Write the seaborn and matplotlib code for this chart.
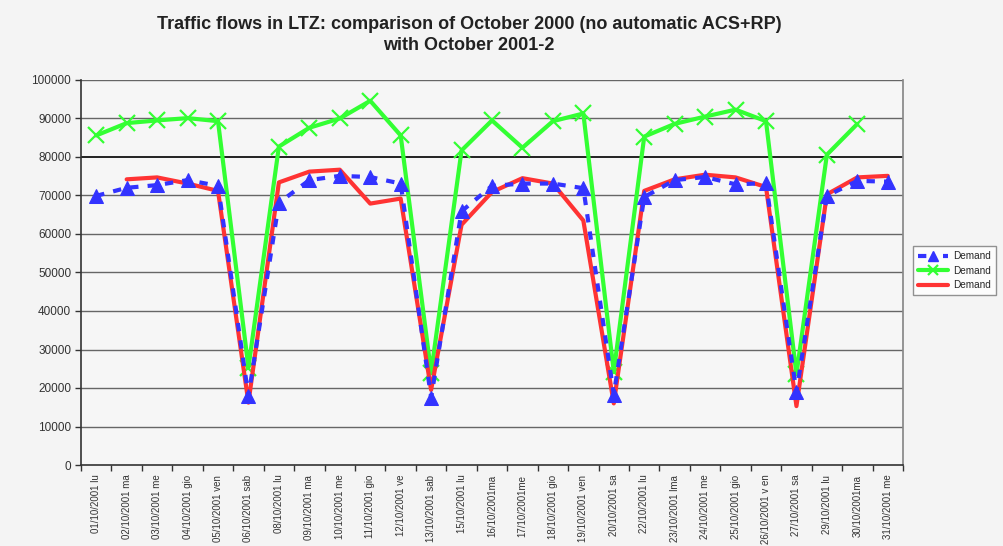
import numpy as np
import pandas as pd
import matplotlib.pyplot as plt
import seaborn as sns
from matplotlib.lines import Line2D

sns.set_theme(style="white")
plt.rcParams["font.family"] = ["Liberation Sans", "DejaVu Sans"]

# ------------------------------------------------------------
# Data
# ------------------------------------------------------------
days = [
    "01/10/2001 lu", "02/10/2001 ma", "03/10/2001 me", "04/10/2001 gio",
    "05/10/2001 ven", "06/10/2001 sab", "08/10/2001 lu", "09/10/2001 ma",
    "10/10/2001 me", "11/10/2001 gio", "12/10/2001 ve", "13/10/2001 sab",
    "15/10/2001 lu", "16/10/2001ma", "17/10/2001me", "18/10/2001 gio",
    "19/10/2001 ven", "20/10/2001 sa", "22/10/2001 lu", "23/10/2001 lma",
    "24/10/2001 me", "25/10/2001 gio", "26/10/2001 v en", "27/10/2001 sa",
    "29/10/2001 lu", "30/10/2001ma", "31/10/2001 me",
]

demand_2000 = [69900, 72000, 72700, 74000, 72500, 17900, 68100, 74000, 75100,
               74800, 73100, 17500, 65900, 72500, 73100, 73100, 71900, 18300,
               69600, 74000, 74800, 72900, 73200, 18900, 69900, 73800, 73600]

demand_2001 = [85600, 88800, 89500, 90100, 89300, 25300, 82700, 87600, 90000,
               94600, 85600, 24000, 81700, 89500, 82400, 89300, 91300, 24200,
               85300, 88600, 90500, 92300, 89300, 23600, 80600, 88600, np.nan]

demand_2002 = [np.nan, 74200, 74700, 73100, 71200, 16200, 73400, 76200, 76700,
               67900, 69200, 19500, 62400, 70900, 74500, 73100, 63500, 16000,
               71200, 74200, 75400, 74700, 72200, 15300, 70300, 74700, 75100]

pos = np.arange(len(days))
df = pd.DataFrame({"pos": pos, "d2000": demand_2000,
                   "d2001": demand_2001, "d2002": demand_2002})

blue = "#3333ff"
green = "#33ff33"
red = "#ff3333"
bg = "#f4f4f4"

fig = plt.figure(figsize=(10.04, 5.46), dpi=100, facecolor=bg)
ax = fig.add_axes([81 / 1004, 1 - 465 / 546, 822 / 1004, 385 / 546])
ax.set_facecolor("#f6f6f6")

# gridlines (the 80000 one is darker in the original)
for v in range(10000, 100001, 10000):
    if v == 80000:
        ax.axhline(v, color="#222222", lw=1.4, zorder=1)
    else:
        ax.axhline(v, color="#666666", lw=1.0, zorder=1)

sns.lineplot(data=df, x="pos", y="d2001", ax=ax, color=green, lw=3,
             marker="x", markersize=11, markeredgewidth=1.6,
             markeredgecolor=green, zorder=3)
sns.lineplot(data=df, x="pos", y="d2000", ax=ax, color=blue, lw=3,
             linestyle=(0, (2, 2.2)), marker="^", markersize=10,
             markeredgecolor=blue, zorder=4)
sns.lineplot(data=df, x="pos", y="d2002", ax=ax, color=red, lw=3, zorder=3)

ax.set_xlim(-0.5, len(days) - 0.5)
ax.set_ylim(0, 100000)
ax.set_yticks(range(0, 100001, 10000))
ax.set_yticklabels([str(v) for v in range(0, 100001, 10000)], fontsize=8.5,
                   color="#333333")
ax.set_xticks(pos)
ax.set_xticklabels(days, rotation=90, fontsize=7, color="#333333")
ax.set_xticks(np.arange(-0.5, len(days), 1), minor=True)
ax.tick_params(axis="x", which="major", length=0, pad=7)
ax.tick_params(axis="x", which="minor", length=4, width=1, color="#333333",
               direction="out", bottom=True)
ax.tick_params(axis="y", length=4, width=1, color="#333333", direction="out",
               left=True, pad=3)
ax.set_xlabel("")
ax.set_ylabel("")

for side in ["left", "bottom"]:
    ax.spines[side].set_color("#333333")
    ax.spines[side].set_linewidth(1.2)
ax.spines["right"].set_color("#888888")
ax.spines["top"].set_visible(False)

fig.text(469 / 1004, 1 - 35 / 546,
         "Traffic flows in LTZ: comparison of October 2000 (no automatic ACS+RP)\nwith October 2001-2",
         ha="center", va="center", fontsize=13, fontweight="bold",
         color="#222222", linespacing=1.35)

handles = [
    Line2D([], [], color=blue, lw=3, linestyle=(0, (2, 4)), marker="^",
           markersize=7, markevery=[1], markeredgecolor=blue),
    Line2D([], [], color=green, lw=3, marker="x", markersize=7,
           markeredgewidth=1.6, markevery=[1]),
    Line2D([], [], color=red, lw=3),
]
leg = fig.legend(handles, ["Demand", "Demand", "Demand"], loc="upper left",
                 bbox_to_anchor=(913 / 1004, 1 - 246 / 546), fontsize=7.2,
                 frameon=True, fancybox=False, handlelength=3.0,
                 borderpad=0.5, labelspacing=0.45, handletextpad=0.5,
                 borderaxespad=0)
leg.get_frame().set_facecolor("white")
leg.get_frame().set_edgecolor("#777777")
leg.get_frame().set_linewidth(1)

fig.savefig("out.png", dpi=100, facecolor=bg)
